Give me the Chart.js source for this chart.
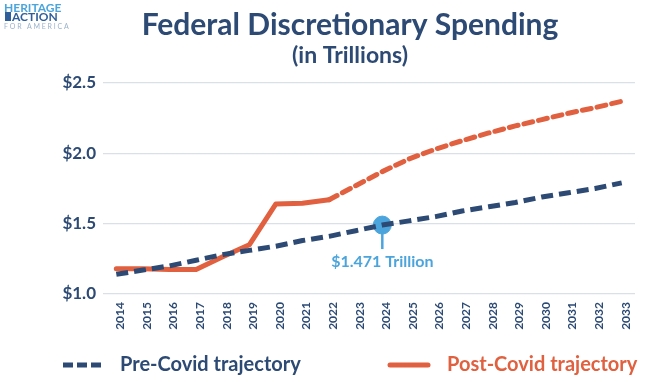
<!DOCTYPE html>
<html lang="en">
<head>
  <meta charset="UTF-8" />
  <title>Federal Discretionary Spending</title>
  <script src="https://cdn.jsdelivr.net/npm/chart.js"></script>
  <style>
    html, body {
      margin: 0;
      padding: 0;
      background: #ffffff;
    }
    canvas {
      display: block;
    }
  </style>
</head>
<body>
  <canvas id="spendChart" width="661" height="382"></canvas>

  <script>
    const years = ['2014', '2015', '2016', '2017', '2018', '2019', '2020', '2021', '2022', '2023',
                   '2024', '2025', '2026', '2027', '2028', '2029', '2030', '2031', '2032', '2033'];
    const preCovid = [1.14, 1.17, 1.20, 1.24, 1.28, 1.31, 1.34, 1.38, 1.41, 1.45,
                      1.49, 1.52, 1.55, 1.59, 1.62, 1.65, 1.69, 1.72, 1.75, 1.79];
    const postCovid = [1.18, 1.18, 1.175, 1.175, 1.265, 1.35, 1.64, 1.645, 1.67, 1.77,
                       1.87, 1.96, 2.03, 2.09, 2.145, 2.195, 2.24, 2.285, 2.325, 2.37];
    const yTicks = [1.0, 1.5, 2.0, 2.5];
    const highlightYear = '2024';
    const highlightLabel = '$1.471 Trillion';

    const navy = '#2c4a74';
    const orange = '#e0603f';
    const skyBlue = '#4ba5dc';
    const font = 'Lato, "Open Sans", sans-serif';

    const highlightData = years.map((y, i) => y === highlightYear ? preCovid[i] : null);

    // title, logo, legend and the callout text
    const decorations = {
      id: 'decorations',
      afterDatasetsDraw(chart) {
        const ctx = chart.ctx;
        const meta = chart.getDatasetMeta(2);
        const idx = years.indexOf(highlightYear);
        const pt = meta.data[idx];
        ctx.save();
        ctx.strokeStyle = skyBlue;
        ctx.lineWidth = 2.5;
        ctx.beginPath();
        ctx.moveTo(pt.x, pt.y + 6);
        ctx.lineTo(pt.x, pt.y + 24);
        ctx.stroke();
        ctx.fillStyle = skyBlue;
        ctx.font = 'bold 16px ' + font;
        ctx.textAlign = 'center';
        ctx.textBaseline = 'middle';
        ctx.fillText(highlightLabel, pt.x, pt.y + 37);
        ctx.restore();
      },
      afterDraw(chart) {
        const ctx = chart.ctx;
        ctx.save();
        ctx.textAlign = 'center';
        ctx.textBaseline = 'middle';
        ctx.fillStyle = navy;
        ctx.font = 'bold 30px ' + font;
        ctx.fillText('Federal Discretionary Spending', 350, 25);
        ctx.font = 'bold 23px ' + font;
        ctx.fillText('(in Trillions)', 350, 56);

        // logo
        ctx.textAlign = 'left';
        ctx.fillStyle = skyBlue;
        ctx.font = 'bold 12px ' + font;
        ctx.fillText('HERITAGE', 4, 8);
        ctx.fillStyle = '#2f5f9a';
        ctx.fillRect(5, 12, 6, 9);
        ctx.fillText('ACTION', 12, 17);
        ctx.fillStyle = '#9ab3cc';
        ctx.font = '7px ' + font;
        ctx.fillText('F O R   A M E R I C A', 4, 27);

        // legend
        const ly = 365;
        ctx.lineWidth = 5;
        ctx.strokeStyle = navy;
        ctx.setLineDash([10, 4]);
        ctx.beginPath();
        ctx.moveTo(63, ly);
        ctx.lineTo(101, ly);
        ctx.stroke();
        ctx.setLineDash([]);
        ctx.lineCap = 'round';
        ctx.strokeStyle = orange;
        ctx.beginPath();
        ctx.moveTo(390, ly);
        ctx.lineTo(428, ly);
        ctx.stroke();
        ctx.font = 'bold 20px ' + font;
        ctx.fillStyle = navy;
        ctx.fillText('Pre-Covid trajectory', 120, ly);
        ctx.fillStyle = orange;
        ctx.fillText('Post-Covid trajectory', 447, ly);
        ctx.restore();
      }
    };

    new Chart(document.getElementById('spendChart'), {
      type: 'line',
      data: {
        labels: years,
        datasets: [
          {
            label: 'Pre-Covid trajectory',
            data: preCovid,
            borderColor: navy,
            borderWidth: 5,
            borderDash: [12, 6],
            pointRadius: 0,
            tension: 0,
            fill: false
          },
          {
            label: 'Post-Covid trajectory',
            data: postCovid,
            borderColor: orange,
            borderWidth: 5,
            borderCapStyle: 'round',
            borderJoinStyle: 'round',
            tension: 0,
            pointRadius: 0,
            fill: false,
            segment: {
              borderDash: c => c.p0DataIndex >= 8 ? [9, 6] : undefined
            }
          },
          {
            label: 'highlight',
            data: highlightData,
            showLine: false,
            pointRadius: 9,
            pointBackgroundColor: skyBlue,
            pointBorderColor: skyBlue
          }
        ]
      },
      options: {
        responsive: false,
        animation: false,
        layout: { padding: { top: 83, right: 26, bottom: 0, left: 0 } },
        plugins: {
          legend: { display: false },
          title: { display: false },
          tooltip: { enabled: false }
        },
        scales: {
          x: {
            offset: true,
            grid: { display: false, drawTicks: false },
            border: { display: false },
            afterFit: s => { s.height = 88; },
            ticks: {
              autoSkip: false,
              minRotation: 90,
              maxRotation: 90,
              padding: 8,
              labelOffset: 4,
              color: navy,
              font: { family: font, size: 12, weight: 'bold' }
            }
          },
          y: {
            min: 1.0,
            max: 2.5,
            afterFit: s => { s.width = 103; },
            afterBuildTicks: s => { s.ticks = yTicks.map(v => ({ value: v })); },
            grid: { color: '#d9e0e8', lineWidth: 1.2, drawTicks: false },
            border: { display: false },
            ticks: {
              padding: 7,
              color: navy,
              font: { family: font, size: 17, weight: 'bold' },
              callback: v => '$' + v.toFixed(1)
            }
          }
        }
      },
      plugins: [decorations]
    });
  </script>
</body>
</html>
